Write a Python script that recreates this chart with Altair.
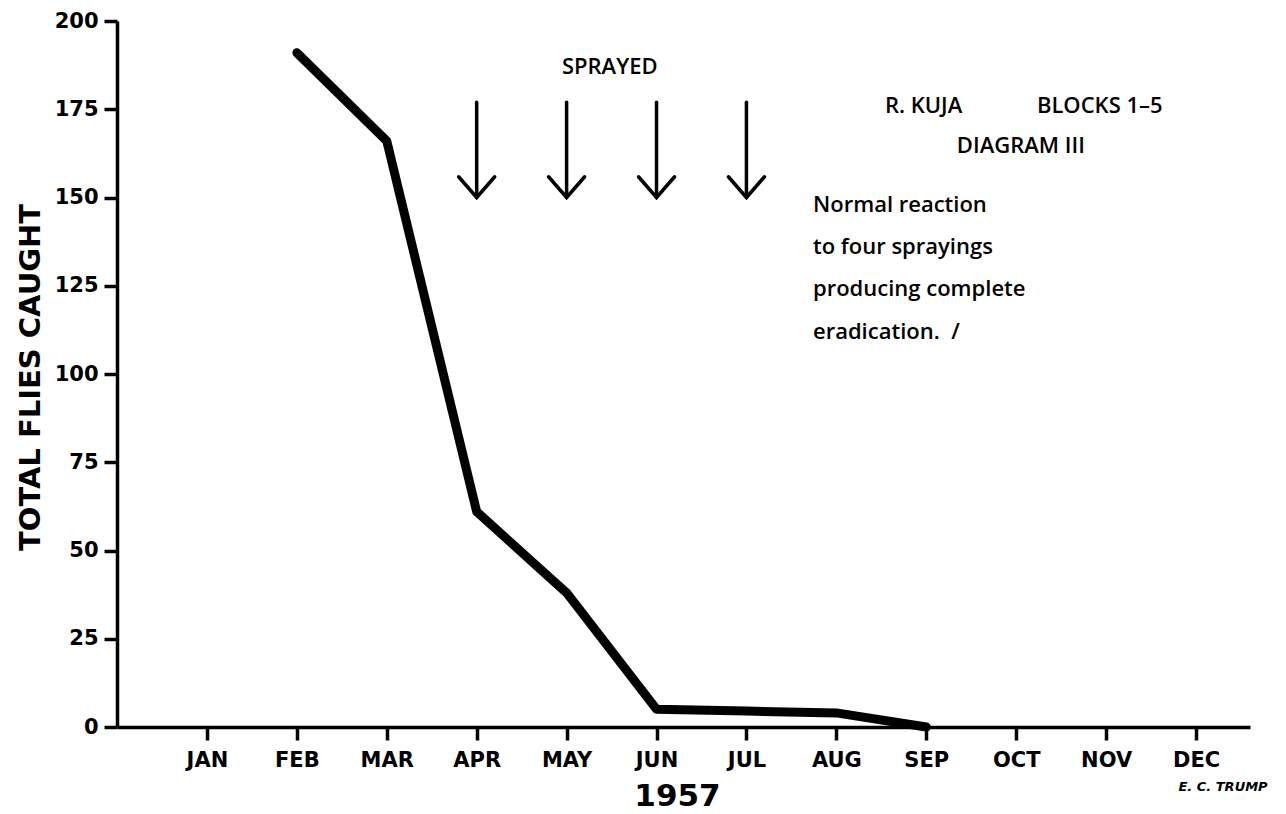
import altair as alt
import pandas as pd

# ---- data ----
month_names = ["JAN", "FEB", "MAR", "APR", "MAY", "JUN", "JUL", "AUG", "SEP", "OCT", "NOV", "DEC"]
line_months = [2, 3, 4, 5, 6, 7, 8, 9]
line_flies = [191, 166, 61, 38, 5, 4.5, 4, 0]

spray_months = [4, 5, 6, 7]
spray_top = [177, 177, 177, 177]
spray_tip = [150, 150, 150, 150]

y_ticks = [0, 25, 50, 75, 100, 125, 150, 175, 200]

# annotations (text, month position, y value)
ann_text = ["SPRAYED", "R. KUJA", "BLOCKS 1–5", "DIAGRAM III",
            "Normal reaction", "to four sprayings", "producing complete", "eradication. \u00a0/"]
ann_x = [5.48, 8.54, 10.23, 9.34, 7.74, 7.74, 7.74, 7.74]
ann_y = [187, 176, 176, 164.5, 148, 136, 124, 112]
ann_align = ["center", "left", "left", "left", "left", "left", "left", "left"]

sig_text = ["E. C. TRUMP"]
sig_x = [12.3]
sig_y = [-17]

line_df = pd.DataFrame({"month": line_months, "flies": line_flies})
spray_df = pd.DataFrame({"month": spray_months, "top": spray_top, "tip": spray_tip})
ann_df = pd.DataFrame({"text": ann_text, "x": ann_x, "y": ann_y, "align": ann_align})
sig_df = pd.DataFrame({"text": sig_text, "x": sig_x, "y": sig_y})

label_expr = "[" + ",".join("'%s'" % m for m in month_names) + "][datum.value - 1]"

xscale = alt.Scale(domain=[0, 12.6], nice=False, zero=False)
yscale = alt.Scale(domain=[0, 200], nice=False)

x_axis = alt.Axis(
    values=list(range(1, 13)), labelExpr=label_expr, grid=False,
    domainColor="black", domainWidth=3.5, tickColor="black", tickWidth=3.5, tickSize=13,
    labelFont="DejaVu Sans", labelFontWeight="bold", labelFontSize=21, labelColor="black",
    labelPadding=9, labelFlush=False,
    title="1957", titleFont="DejaVu Sans", titleFontWeight="bold", titleFontSize=31,
    titleColor="black", titleX=560, titleY=69, titleAlign="center", titleBaseline="middle",
)
y_axis = alt.Axis(
    values=y_ticks, grid=False,
    domainColor="black", domainWidth=3.5, tickColor="black", tickWidth=3.5, tickSize=13,
    labelFont="DejaVu Sans", labelFontWeight="bold", labelFontSize=21, labelColor="black",
    labelPadding=6, labelFlush=False,
    title="TOTAL FLIES CAUGHT", titleFont="DejaVu Sans", titleFontWeight="bold",
    titleFontSize=29, titleColor="black", titleX=-87, titleY=356, titleAngle=270,
    titleAlign="center", titleBaseline="middle",
)

line = alt.Chart(line_df).mark_line(
    color="black", strokeWidth=9, strokeJoin="round", strokeCap="round"
).encode(
    x=alt.X("month:Q", scale=xscale, axis=x_axis),
    y=alt.Y("flies:Q", scale=yscale, axis=y_axis),
)

shafts = alt.Chart(spray_df).mark_rule(color="black", strokeWidth=3.5, strokeCap="round").encode(
    x=alt.X("month:Q", scale=xscale),
    y=alt.Y("top:Q", scale=yscale),
    y2="tip:Q",
)

heads = alt.Chart(spray_df).mark_point(
    shape="M-1,-1.15L0,0L1,-1.15", filled=False, stroke="black", strokeWidth=3.5,
    size=1300, opacity=1, strokeCap="round", strokeJoin="miter",
).encode(
    x=alt.X("month:Q", scale=xscale),
    y=alt.Y("tip:Q", scale=yscale),
)

ann_center = alt.Chart(ann_df[ann_df["align"] == "center"]).mark_text(
    font="Open Sans", fontSize=22, fontWeight=600, color="black", align="center", baseline="middle"
).encode(
    x=alt.X("x:Q", scale=xscale), y=alt.Y("y:Q", scale=yscale), text="text:N"
)
ann_left = alt.Chart(ann_df[ann_df["align"] == "left"]).mark_text(
    font="Open Sans", fontSize=22, fontWeight=600, color="black", align="left", baseline="middle"
).encode(
    x=alt.X("x:Q", scale=xscale), y=alt.Y("y:Q", scale=yscale), text="text:N"
)
sig = alt.Chart(sig_df).mark_text(
    font="DejaVu Sans", fontSize=13, fontStyle="italic", fontWeight="bold", color="black",
    align="center", baseline="middle"
).encode(
    x=alt.X("x:Q", scale=xscale), y=alt.Y("y:Q", scale=yscale), text="text:N"
)

chart = alt.layer(line, shafts, heads, ann_center, ann_left, sig).properties(
    width=1133, height=706,
    autosize=alt.AutoSizeParams(type="none"),
    padding={"left": 109, "top": 13, "right": 28, "bottom": 84},
    background="white",
).configure_view(stroke=None)

chart.save("out.html", embed_options={"renderer": "svg", "actions": False})
